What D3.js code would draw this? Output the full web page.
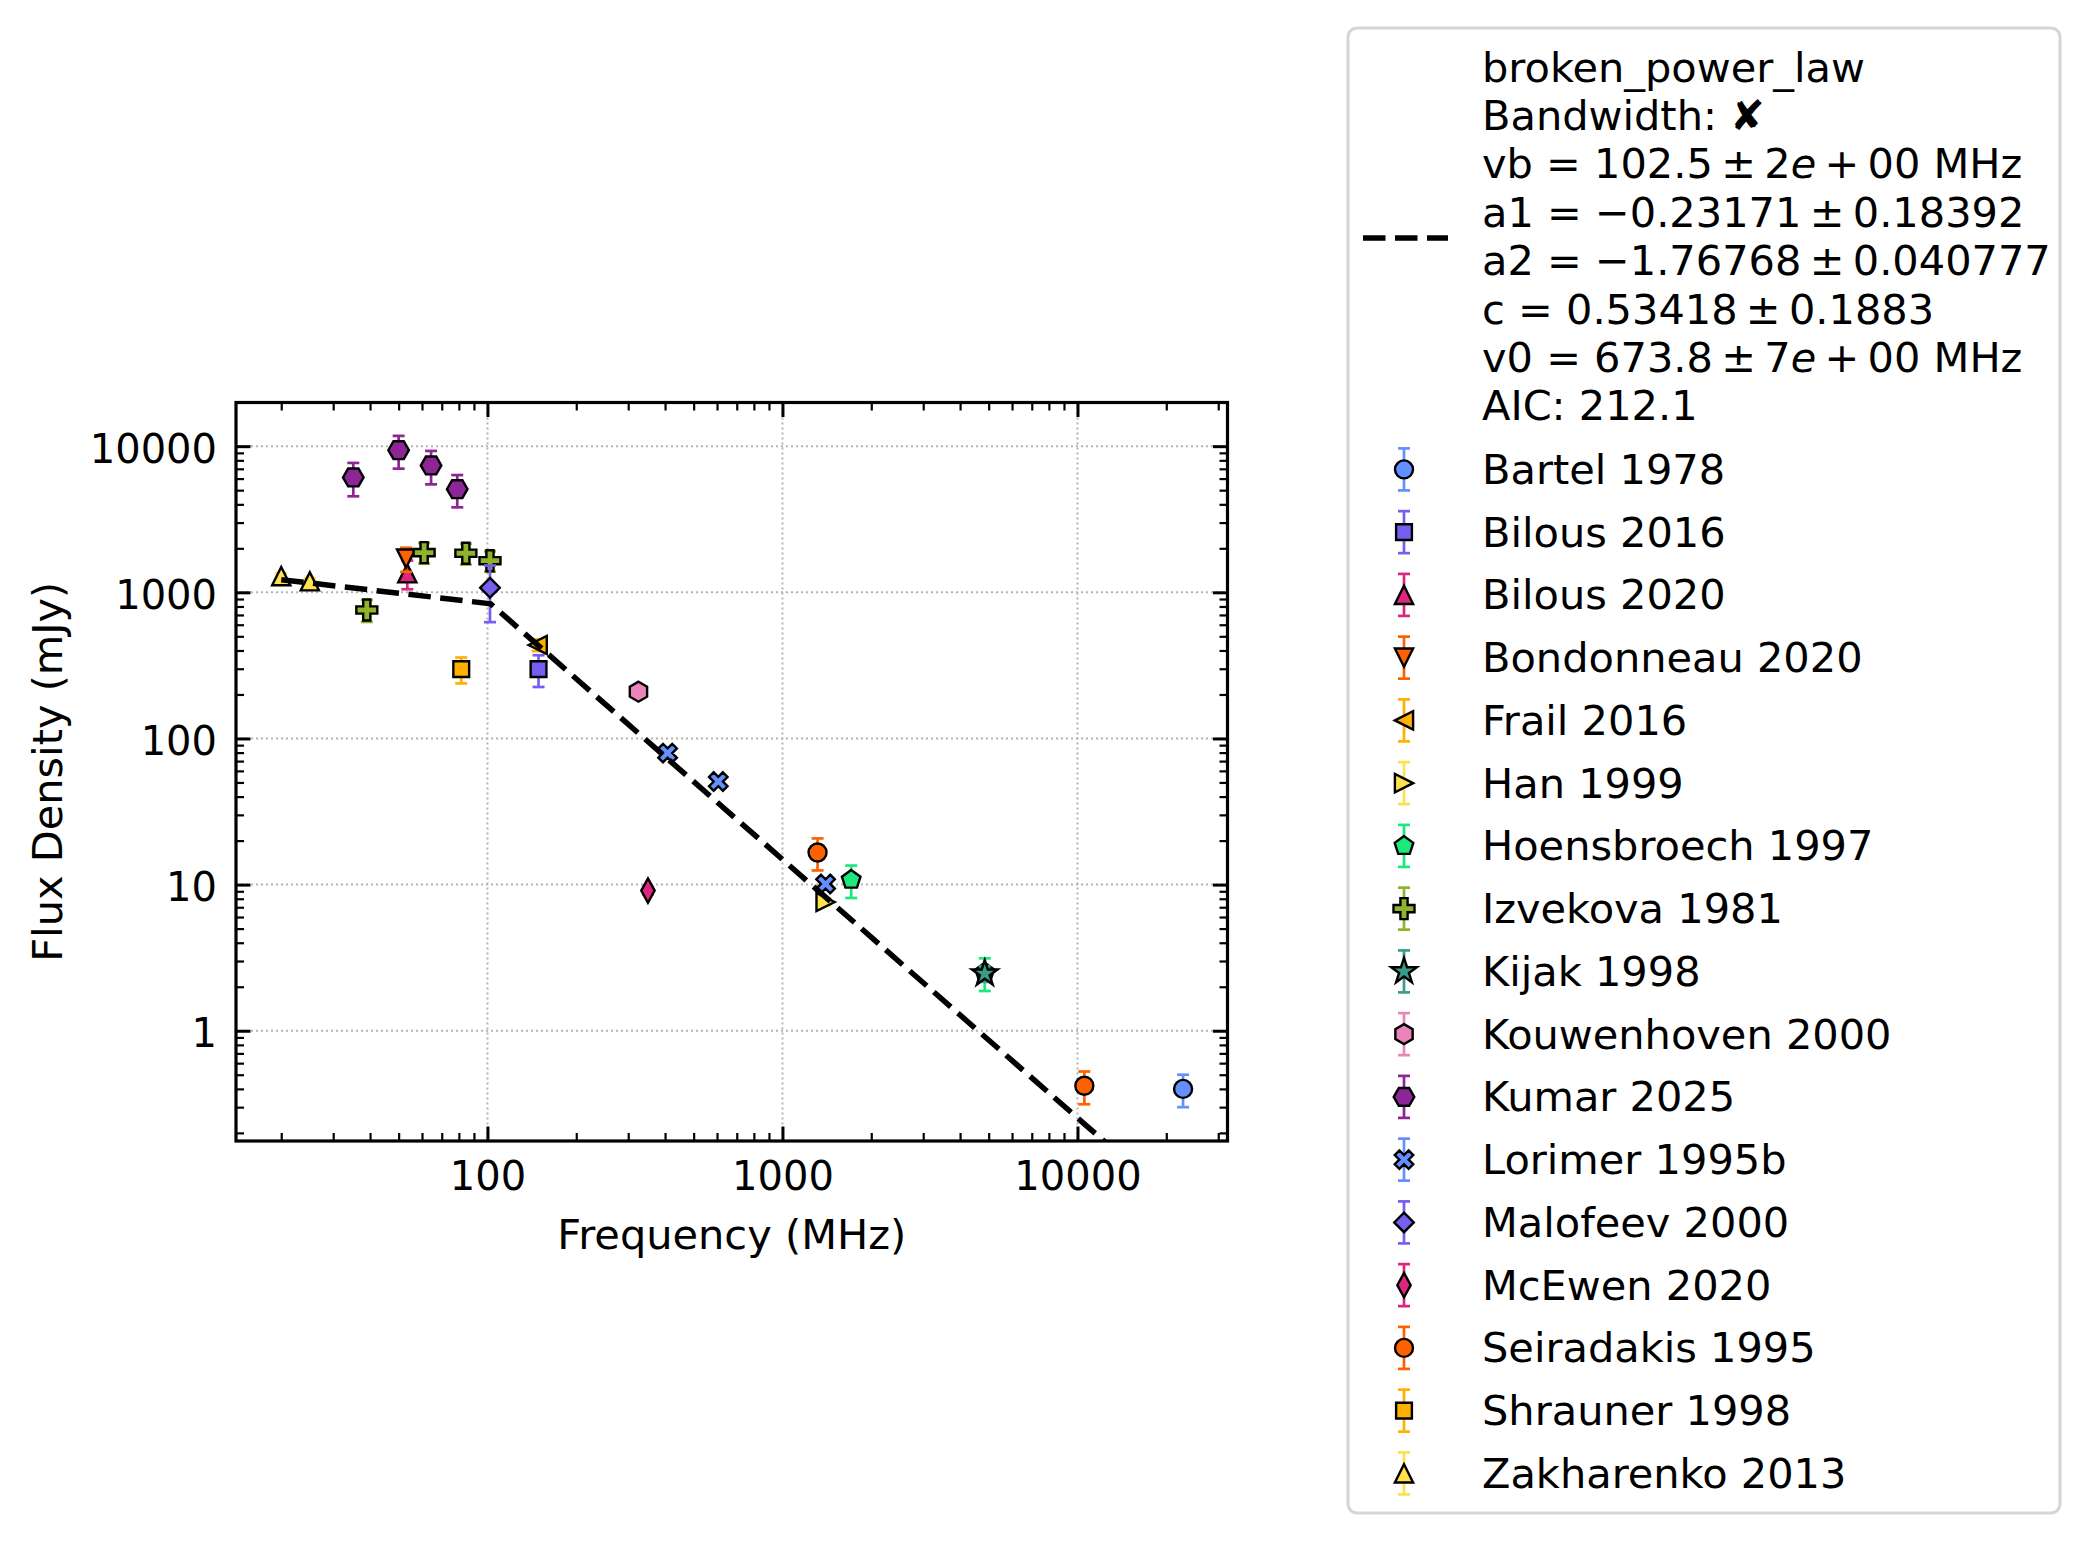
<!DOCTYPE html>
<html>
<head>
<meta charset="utf-8">
<script src="https://cdn.jsdelivr.net/npm/d3@7"></script>
<style>
  body { margin: 0; background: #fff; }
  text { font-family: "DejaVu Sans", sans-serif; fill: #000; }
</style>
</head>
<body>
<svg id="chart"></svg>
<script>
// studies, colours and matplotlib-style marker codes
const studies = ["Bartel 1978", "Bilous 2016", "Bilous 2020", "Bondonneau 2020", "Frail 2016",
  "Han 1999", "Hoensbroech 1997", "Izvekova 1981", "Kijak 1998", "Kouwenhoven 2000",
  "Kumar 2025", "Lorimer 1995b", "Malofeev 2000", "McEwen 2020", "Seiradakis 1995",
  "Shrauner 1998", "Zakharenko 2013"];
const studyColors = ["#648fff", "#785ef0", "#dc267f", "#fe6100", "#ffb000",
  "#ffe14d", "#1de87c", "#8fb32a", "#3a9b8a", "#e985b8",
  "#8e2596", "#648fff", "#785ef0", "#dc267f", "#fe6100",
  "#ffb000", "#ffe14d"];
const studyMarkers = ["o", "s", "^", "v", "<", ">", "p", "P", "*", "h", "H", "X", "D", "d", "o", "s", "^"];

// measurements (index into studies, MHz, mJy, mJy)
const pointStudy = [0, 1, 2, 3, 4, 5, 6, 6, 7, 7, 7, 7, 8, 9, 10, 10, 10, 10, 11, 11, 11, 12, 13, 14, 14, 15, 16, 16];
const pointFreq = [22800, 149, 53.5, 53, 148, 1400, 1710, 4850, 39, 61, 84.5, 102, 4850, 325, 35.1, 50, 64.4, 79,
  408, 606, 1400, 102, 350, 1315, 10550, 81.5, 20, 25];
const pointFlux = [0.40, 298, 1350, 1700, 436, 7.6, 10.8, 2.5, 757, 1870, 1850, 1645, 2.46, 209, 6110, 9390, 7380, 5080,
  79.4, 50.7, 10.1, 1075, 9.1, 16.6, 0.42, 298, 1290, 1190];
const pointErr = [0.10, 73, 300, 320, 40, 0.4, 2.7, 0.63, 130, 300, 300, 260, 0.3, 20, 1570, 2370, 1900, 1265,
  5, 3, 0.7, 450, 0.5, 4.1, 0.106, 60, 65, 60];

// broken power law fit
const fitFreq = [20, 102.5, 22800];
const fitFlux = [1220, 835, 0.059];
const th = "\u2009";
const fitLabel = [
  ["broken_power_law"],
  ["Bandwidth: \u2718"],
  ["vb = 102.5" + th + "\u00b1" + th + "2", "e", th + "+" + th + "00 MHz"],
  ["a1 = \u22120.23171" + th + "\u00b1" + th + "0.18392"],
  ["a2 = \u22121.76768" + th + "\u00b1" + th + "0.040777"],
  ["c = 0.53418" + th + "\u00b1" + th + "0.1883"],
  ["v0 = 673.8" + th + "\u00b1" + th + "7", "e", th + "+" + th + "00 MHz"],
  ["AIC: 212.1"]
];

const xMajor = [100, 1000, 10000];
const yMajor = [1, 10, 100, 1000, 10000];

const width = 2091;
const height = 1544;
const plot = { left: 236, right: 1227.5, top: 402.5, bottom: 1141 };

const svg = d3.select("#chart").attr("width", width).attr("height", height);

const x = d3.scaleLog().domain([14.05, 32250]).range([plot.left, plot.right]);
const y = d3.scaleLog().domain([0.176, 19900]).range([plot.bottom, plot.top]);

// minor tick values inside the domain
const minorOf = scale => {
  const [a, b] = scale.domain();
  const out = [];
  for (let e = Math.floor(Math.log10(a)); e <= Math.ceil(Math.log10(b)); e++) {
    for (let m = 2; m <= 9; m++) {
      const v = m * Math.pow(10, e);
      if (v >= a && v <= b) out.push(v);
    }
  }
  return out;
};
const xMinor = minorOf(x);
const yMinor = minorOf(y);

// marker shapes
const poly = pts => "M" + pts.map(p => p[0].toFixed(2) + "," + p[1].toFixed(2)).join("L") + "Z";
const regular = (n, r, start) => d3.range(n).map(i => {
  const a = start + i * 2 * Math.PI / n;
  return [r * Math.cos(a), r * Math.sin(a)];
});
const rotate = (pts, ang) => pts.map(([px, py]) => [px * Math.cos(ang) - py * Math.sin(ang), px * Math.sin(ang) + py * Math.cos(ang)]);
const plusPts = (a, w) => [[-w, -a], [w, -a], [w, -w], [a, -w], [a, w], [w, w], [w, a], [-w, a], [-w, w], [-a, w], [-a, -w], [-w, -w]];

function markerPath(m) {
  const h = 9.1;
  switch (m) {
    case "o": return "M9,0A9,9 0 1,1 -9,0A9,9 0 1,1 9,0Z";
    case "s": return poly([[-7.9, -7.9], [7.9, -7.9], [7.9, 7.9], [-7.9, 7.9]]);
    case "^": return poly([[0, -h], [h, h], [-h, h]]);
    case "v": return poly([[0, h], [h, -h], [-h, -h]]);
    case "<": return poly([[-h, 0], [h, -h], [h, h]]);
    case ">": return poly([[h, 0], [-h, -h], [-h, h]]);
    case "p": return poly(regular(5, 9.8, -Math.PI / 2));
    case "P": return poly(plusPts(10.5, 3.6));
    case "*": return poly(d3.range(10).map(i => {
      const r = i % 2 === 0 ? 13.5 : 13.5 * 0.382;
      const a = -Math.PI / 2 + i * Math.PI / 5;
      return [r * Math.cos(a), r * Math.sin(a)];
    }));
    case "h": return poly(regular(6, 10, -Math.PI / 2));
    case "H": return poly(regular(6, 10.3, 0));
    case "X": return poly(rotate(plusPts(9.8, 3.3), Math.PI / 4));
    case "D": return poly([[0, -9.8], [9.8, 0], [0, 9.8], [-9.8, 0]]);
    case "d": return poly([[0, -12.2], [6.7, 0], [0, 12.2], [-6.7, 0]]);
  }
}

// grid
const grid = svg.append("g").attr("stroke", "#b4b4b4").attr("stroke-width", 2).attr("stroke-dasharray", "2,3");
grid.selectAll(".gx").data(xMajor).enter().append("line")
  .attr("x1", d => x(d)).attr("x2", d => x(d)).attr("y1", plot.top).attr("y2", plot.bottom);
grid.selectAll(".gy").data(yMajor).enter().append("line")
  .attr("y1", d => y(d)).attr("y2", d => y(d)).attr("x1", plot.left).attr("x2", plot.right);

// axes with inward ticks on all four sides
function styleAxis(g, fontSize) {
  g.select(".domain").remove();
  g.selectAll(".tick line").attr("stroke", "#000");
  g.selectAll(".tick text").attr("font-family", "DejaVu Sans").attr("font-size", fontSize).attr("fill", "#000");
}
const addAxis = (axis, tr, major, minor, labels) => {
  const gMin = svg.append("g").attr("transform", tr)
    .call(axis.tickValues(minor).tickFormat("").tickSizeInner(-8).tickSizeOuter(0));
  styleAxis(gMin, 40);
  gMin.selectAll(".tick line").attr("stroke-width", 2.2);
  const gMaj = svg.append("g").attr("transform", tr)
    .call(axis.tickValues(major).tickFormat(labels ? d3.format("d") : "").tickSizeInner(-14.5).tickSizeOuter(0));
  styleAxis(gMaj, 40);
  gMaj.selectAll(".tick line").attr("stroke-width", 3);
  return gMaj;
};
addAxis(d3.axisBottom(x).tickPadding(21), `translate(0,${plot.bottom})`, xMajor, xMinor, true);
addAxis(d3.axisTop(x), `translate(0,${plot.top})`, xMajor, xMinor, false);
const yAxisG = addAxis(d3.axisLeft(y).tickPadding(19), `translate(${plot.left},0)`, yMajor, yMinor, true);
yAxisG.selectAll(".tick text").attr("dy", "0.4em");
addAxis(d3.axisRight(y), `translate(${plot.right},0)`, yMajor, yMinor, false);

svg.append("rect")
  .attr("x", plot.left).attr("y", plot.top)
  .attr("width", plot.right - plot.left).attr("height", plot.bottom - plot.top)
  .attr("fill", "none").attr("stroke", "#000").attr("stroke-width", 3.2);

// axis labels
svg.append("text").attr("x", (plot.left + plot.right) / 2).attr("y", 1249)
  .attr("text-anchor", "middle").attr("font-size", 41.5).text("Frequency (MHz)");
svg.append("text").attr("transform", `translate(62,${(plot.top + plot.bottom) / 2}) rotate(-90)`)
  .attr("text-anchor", "middle").attr("font-size", 41.5).text("Flux Density (mJy)");

// data points: error bars then markers, study by study
const points = pointStudy.map((s, i) => ({ s, f: pointFreq[i], v: pointFlux[i], e: pointErr[i] }));
const pts = svg.append("g");
studies.forEach((name, s) => {
  const rows = points.filter(p => p.s === s);
  const g = pts.append("g");
  const eb = g.selectAll(".eb").data(rows).enter().append("g")
    .attr("stroke", studyColors[s]).attr("stroke-width", 2.7);
  eb.append("line").attr("x1", d => x(d.f)).attr("x2", d => x(d.f))
    .attr("y1", d => y(d.v + d.e)).attr("y2", d => y(Math.max(d.v - d.e, 1e-3)));
  eb.append("line").attr("x1", d => x(d.f) - 6).attr("x2", d => x(d.f) + 6)
    .attr("y1", d => y(d.v + d.e)).attr("y2", d => y(d.v + d.e));
  eb.append("line").attr("x1", d => x(d.f) - 6).attr("x2", d => x(d.f) + 6)
    .attr("y1", d => y(d.v - d.e)).attr("y2", d => y(d.v - d.e));
  g.selectAll(".mk").data(rows).enter().append("path")
    .attr("d", markerPath(studyMarkers[s]))
    .attr("transform", d => `translate(${x(d.f)},${y(d.v)})`)
    .attr("fill", studyColors[s]).attr("stroke", "#000").attr("stroke-width", 2.4)
    .attr("stroke-linejoin", "miter");
});

// fit line, clipped to the axes
svg.append("clipPath").attr("id", "clip").append("rect")
  .attr("x", plot.left).attr("y", plot.top)
  .attr("width", plot.right - plot.left).attr("height", plot.bottom - plot.top);
svg.append("path")
  .datum(fitFreq.map((f, i) => [f, fitFlux[i]]))
  .attr("clip-path", "url(#clip)")
  .attr("d", d3.line().x(d => x(d[0])).y(d => y(d[1])))
  .attr("fill", "none").attr("stroke", "#000").attr("stroke-width", 5.5)
  .attr("stroke-dasharray", "22.5,9.5");

// legend
const leg = svg.append("g");
leg.append("rect").attr("x", 1348).attr("y", 28).attr("width", 712).attr("height", 1485)
  .attr("rx", 9).attr("fill", "#fff").attr("stroke", "#d5d5d5").attr("stroke-width", 3);

const textX = 1482;
fitLabel.forEach((segs, i) => {
  const t = leg.append("text").attr("x", textX).attr("y", 81.5 + i * 48.4).attr("font-size", 41.5);
  segs.forEach((s, j) => {
    const ts = t.append("tspan").text(s);
    if (j % 2 === 1) ts.attr("font-style", "italic");
  });
});
leg.append("line").attr("x1", 1363).attr("x2", 1448).attr("y1", 238).attr("y2", 238)
  .attr("stroke", "#000").attr("stroke-width", 5.5).attr("stroke-dasharray", "22.5,9.5");

const entryY = i => 469.4 + i * 62.75;
studies.forEach((name, s) => {
  const cy = entryY(s);
  const g = leg.append("g");
  const eg = g.append("g").attr("stroke", studyColors[s]).attr("stroke-width", 2.7);
  eg.append("line").attr("x1", 1404).attr("x2", 1404).attr("y1", cy - 21).attr("y2", cy + 21);
  eg.append("line").attr("x1", 1398).attr("x2", 1410).attr("y1", cy - 21).attr("y2", cy - 21);
  eg.append("line").attr("x1", 1398).attr("x2", 1410).attr("y1", cy + 21).attr("y2", cy + 21);
  g.append("path").attr("d", markerPath(studyMarkers[s]))
    .attr("transform", `translate(1404,${cy})`)
    .attr("fill", studyColors[s]).attr("stroke", "#000").attr("stroke-width", 2.4);
  g.append("text").attr("x", textX).attr("y", cy + 14.5).attr("font-size", 41.5).text(name);
});
</script>
</body>
</html>
